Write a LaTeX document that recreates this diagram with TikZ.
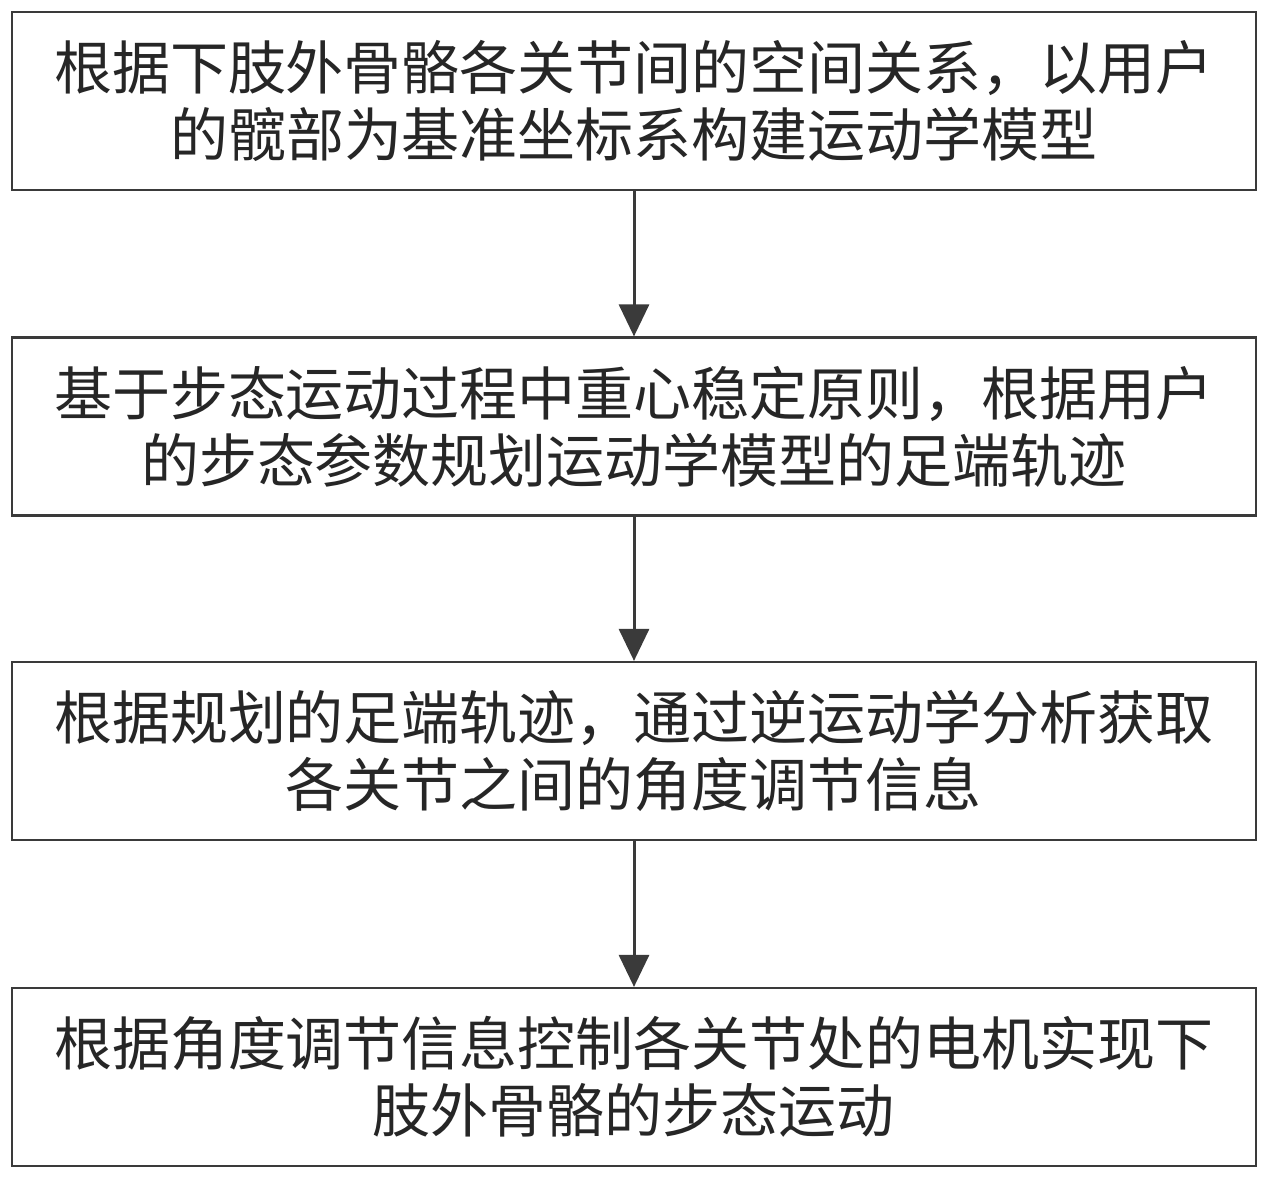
\documentclass[tikz,border=0pt]{standalone}
\usepackage{fontspec}
\newfontfamily\cjk{Noto Sans CJK SC}
\usetikzlibrary{arrows.meta}
\definecolor{lineclr}{HTML}{3A3A3A}
\tikzset{
  stepbox/.style={draw=lineclr, line width=2.2pt, minimum width=1244pt, minimum height=178pt,
    inner sep=0pt, align=center, text=black!85, font=\cjk\fontsize{58}{67}\selectfont},
  flow/.style={draw=lineclr, line width=3pt, -{Triangle[width=30pt,length=32pt]}}
}
\begin{document}
\begin{tikzpicture}[x=1pt,y=-1pt]
\useasboundingbox[fill=white] (0,0) rectangle (1275,1187);
\node[stepbox] (b1) at (634,101) {根据下肢外骨骼各关节间的空间关系，以用户\\的髋部为基准坐标系构建运动学模型};
\node[stepbox] (b2) at (634,426.5) {基于步态运动过程中重心稳定原则，根据用户\\的步态参数规划运动学模型的足端轨迹};
\node[stepbox] (b3) at (634,751) {根据规划的足端轨迹，通过逆运动学分析获取\\各关节之间的角度调节信息};
\node[stepbox] (b4) at (634,1077) {根据角度调节信息控制各关节处的电机实现下\\肢外骨骼的步态运动};
\draw[flow] (b1.south) -- (b2.north);
\draw[flow] (b2.south) -- (b3.north);
\draw[flow] (b3.south) -- (b4.north);
\end{tikzpicture}
\end{document}
